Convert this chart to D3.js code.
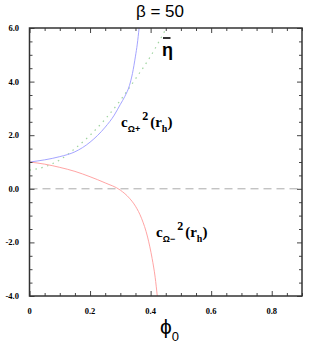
<!DOCTYPE html>
<html><head><meta charset="utf-8">
<script src="https://cdn.jsdelivr.net/npm/d3@7"></script>
<style>body{margin:0;background:#fff}svg{display:block}</style>
</head><body>
<svg id="c" width="319" height="346"></svg>
<script>
// ---- data ----
const xTickLabels = ["0", "0.2", "0.4", "0.6", "0.8"];
const xTickValues = [0, 0.2, 0.4, 0.6, 0.8];
const yTickLabels = ["6.0", "4.0", "2.0", "0.0", "-2.0", "-4.0"];
const yTickValues = [6, 4, 2, 0, -2, -4];

const plusX  = [0, 0.05, 0.1, 0.15, 0.2, 0.25, 0.28, 0.3, 0.315, 0.33, 0.34, 0.35, 0.356, 0.362];
const plusY  = [1.0, 1.08, 1.2, 1.38, 1.74, 2.3, 2.75, 3.15, 3.45, 3.85, 4.3, 4.95, 5.4, 6.0];
const etaX   = [0, 0.05, 0.1, 0.15, 0.2, 0.25, 0.3, 0.35, 0.4, 0.452];
const etaY   = [0.70, 0.82, 1.08, 1.5, 2.0, 2.6, 3.3, 4.1, 4.95, 6.0];
const minusX = [0, 0.05, 0.1, 0.15, 0.2, 0.25, 0.3, 0.33, 0.35, 0.37, 0.39, 0.405, 0.415, 0.422];
const minusY = [1.0, 0.92, 0.8, 0.65, 0.45, 0.22, -0.05, -0.35, -0.65, -1.1, -1.8, -2.6, -3.3, -4.0];

// ---- layout ----
const svg = d3.select("#c");
const L = 29.5, R = 302, T = 28, B = 296;
const x = d3.scaleLinear().domain([0, 0.9]).range([L, R]);
const y = d3.scaleLinear().domain([-4, 6]).range([B, T]);

const tickFont = "'Liberation Serif','Times New Roman',serif";
const sans = "'Liberation Sans',Arial,sans-serif";

// zero dashed line
svg.append("line").attr("x1", x(0)).attr("x2", x(0.9)).attr("y1", y(0)).attr("y2", y(0))
  .attr("stroke", "#aaa").attr("stroke-width", 1).attr("stroke-dasharray", "8,5");

// curves
const line = d3.line().x(d => x(d[0])).y(d => y(d[1])).curve(d3.curveMonotoneX);
svg.append("clipPath").attr("id", "cp").append("rect")
  .attr("x", L).attr("y", T).attr("width", R - L).attr("height", B - T);
const g = svg.append("g").attr("clip-path", "url(#cp)");
g.append("path").datum(d3.zip(etaX, etaY)).attr("d", line).attr("fill", "none")
  .attr("stroke", "#9fd49f").attr("stroke-width", 1.2).attr("stroke-dasharray", "1.5,4.5");
g.append("path").datum(d3.zip(plusX, plusY)).attr("d", line).attr("fill", "none")
  .attr("stroke", "#9a9aff").attr("stroke-width", 0.9);
g.append("path").datum(d3.zip(minusX, minusY)).attr("d", line).attr("fill", "none")
  .attr("stroke", "#ff9a9a").attr("stroke-width", 0.9);

// axes with inside ticks
const xMinor = d3.range(0, 0.9001, 0.05);
const yMinor = d3.range(-4, 6.001, 0.5);
function ax(axis, tr) { const a = svg.append("g").attr("transform", tr).call(axis);
  a.selectAll("text").remove(); a.select(".domain").remove();
  a.selectAll("line").attr("stroke", "#444").attr("stroke-width", 1); return a; }
const isMajX = v => Math.abs(v / 0.2 - Math.round(v / 0.2)) < 1e-6;
const isMajY = v => Math.abs(v / 2 - Math.round(v / 2)) < 1e-6;
ax(d3.axisBottom(x).tickValues(xMinor).tickSizeOuter(0).tickSizeInner(-3), `translate(0,${B})`)
  .selectAll(".tick line").attr("y2", d => isMajX(d) ? -5 : -3);
ax(d3.axisTop(x).tickValues(xMinor).tickSizeOuter(0).tickSizeInner(-3), `translate(0,${T})`)
  .selectAll(".tick line").attr("y2", d => isMajX(d) ? 5 : 3);
ax(d3.axisLeft(y).tickValues(yMinor).tickSizeOuter(0).tickSizeInner(-3), `translate(${L},0)`)
  .selectAll(".tick line").attr("x2", d => isMajY(d) ? 5 : 3);
ax(d3.axisRight(y).tickValues(yMinor).tickSizeOuter(0).tickSizeInner(-3), `translate(${R},0)`)
  .selectAll(".tick line").attr("x2", d => isMajY(d) ? -5 : -3);

// frame
svg.append("rect").attr("x", L).attr("y", T).attr("width", R - L).attr("height", B - T)
  .attr("fill", "none").attr("stroke", "#333").attr("stroke-width", 1.5);

// tick labels
svg.selectAll(".xl").data(xTickValues).enter().append("text")
  .attr("x", d => x(d)).attr("y", B + 18).attr("text-anchor", "middle")
  .attr("font-family", tickFont).attr("font-weight", "bold").attr("font-size", 8.5).attr("fill", "#000")
  .text((d, i) => xTickLabels[i]);
svg.selectAll(".yl").data(yTickValues).enter().append("text")
  .attr("x", 19).attr("y", d => y(d) + 3).attr("text-anchor", "end")
  .attr("font-family", tickFont).attr("font-weight", "bold").attr("font-size", 8.5).attr("fill", "#000")
  .text((d, i) => yTickLabels[i]);

// title
svg.append("text").attr("x", 160).attr("y", 17).attr("text-anchor", "middle")
  .attr("font-family", sans).attr("font-size", 17)
  .text("β = 50");

// x axis label
const xl = svg.append("text").attr("x", 160).attr("y", 334)
  .attr("font-family", sans).attr("font-size", 21);
xl.append("tspan").text("ϕ");
xl.append("tspan").attr("font-size", 13).attr("dy", 7).text("0");

// eta bar
svg.append("text").attr("x", 162).attr("y", 56)
  .attr("font-family", sans).attr("font-size", 18)
  .attr("font-weight", "bold").text("η");
svg.append("line").attr("x1", 163).attr("x2", 170.5).attr("y1", 38).attr("y2", 38)
  .attr("stroke", "#000").attr("stroke-width", 1.6);

// c labels
function cLabel(px, py, sign) {
  const t = svg.append("text").attr("x", px).attr("y", py)
    .attr("font-family", tickFont).attr("font-weight", "bold").attr("font-size", 15);
  t.append("tspan").text("c");
  t.append("tspan").attr("font-size", 9).attr("dy", 5).attr("font-family", sans).text("Ω" + sign);
  t.append("tspan").attr("font-size", 12).attr("dy", -12).attr("dx", 2).text("2");
  t.append("tspan").attr("font-size", 15).attr("dy", 7).attr("dx", 2).text("(r");
  t.append("tspan").attr("font-size", 10).attr("dy", 5).text("h");
  t.append("tspan").attr("font-size", 15).attr("dy", -5).text(")");
}
cLabel(121, 127, "+");
cLabel(156, 237, "−");
</script>
</body></html>
